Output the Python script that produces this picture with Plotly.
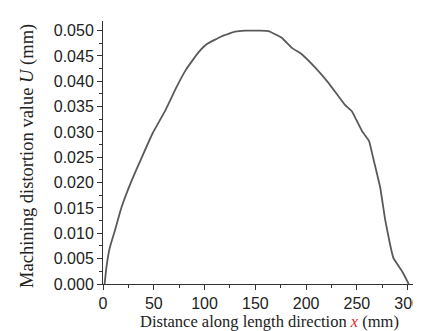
import plotly.graph_objects as go

x_mm = [1.6, 3.3, 6.6, 11.5, 18, 28, 38, 49, 61, 72, 82, 94, 102, 117, 130, 140, 150, 155,
        163, 176, 186, 196, 209, 222, 238, 245, 255, 262, 266, 273, 278, 283, 286, 294.5, 301]
u_mm = [0.0, 0.0032, 0.0071, 0.0104, 0.0150, 0.0203, 0.0249, 0.0298, 0.0341, 0.0387, 0.0424,
        0.0457, 0.0473, 0.0489, 0.0498, 0.0500, 0.0500, 0.0500,
        0.0499, 0.0486, 0.0466, 0.0453, 0.0427, 0.0397, 0.0354, 0.0341, 0.0302, 0.0282,
        0.0249, 0.0190, 0.0125, 0.0075, 0.0051, 0.0025, 0.0]

x_ticks = [0, 50, 100, 150, 200, 250, 300]
y_ticks = [0.000, 0.005, 0.010, 0.015, 0.020, 0.025, 0.030, 0.035, 0.040, 0.045, 0.050]
y_tick_labels = ["%.3f" % v for v in y_ticks]

fig = go.Figure()
fig.add_trace(go.Scatter(x=x_mm, y=u_mm, mode="lines",
                         line=dict(color="#5a5a5a", width=1.8, shape="spline", smoothing=0.3),
                         showlegend=False, hoverinfo="skip"))

axis_common = dict(showgrid=False, zeroline=False, showline=True, linecolor="#333333",
                   linewidth=1, ticks="outside", ticklen=5, tickwidth=1, tickcolor="#333333",
                   tickfont=dict(family="Liberation Sans, Arial, sans-serif", size=16, color="#222"))

fig.update_xaxes(range=[0, 321], tickvals=x_ticks, ticktext=[str(v) for v in x_ticks],
                 minor=dict(dtick=25, ticks="outside", ticklen=3, tickcolor="#333333"),
                 **axis_common)
fig.update_yaxes(range=[0, 0.0519], tickvals=y_ticks, ticktext=y_tick_labels,
                 minor=dict(dtick=0.0025, ticks="outside", ticklen=3, tickcolor="#333333"),
                 **axis_common)

fig.add_annotation(text="Machining distortion value <i>U</i> (mm)", xref="paper", yref="paper",
                   x=-0.23, y=0.487, textangle=-90, showarrow=False, xanchor="center", yanchor="middle",
                   font=dict(family="Liberation Serif, Times New Roman, serif", size=18.5, color="#222"))
fig.add_annotation(text="Distance along length direction <i><span style='color:#e8251f'>x</span></i> (mm)",
                   xref="paper", yref="paper", x=0.512, y=-0.143, showarrow=False,
                   xanchor="center", yanchor="middle",
                   font=dict(family="Liberation Serif, Times New Roman, serif", size=16.5, color="#222"))

fig.update_layout(width=421, height=331, margin=dict(l=95, r=0, t=13, b=55),
                  plot_bgcolor="white", paper_bgcolor="white")

fig.write_html("out.html")
